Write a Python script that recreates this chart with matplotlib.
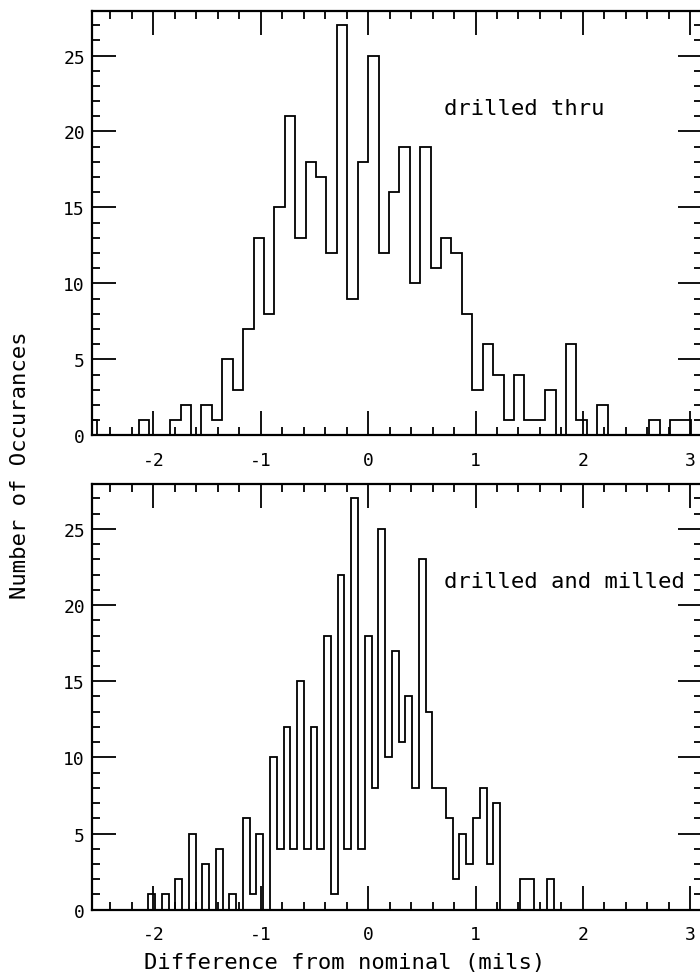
import matplotlib
matplotlib.use("Agg")
import matplotlib.pyplot as plt
import numpy as np
from matplotlib.ticker import MultipleLocator

# histogram counts
# top panel: bins of width 0.097, first bin starts at -27 * width
top_width = 0.097
top_first = -27
top_counts = [1, 0, 0, 0, 0, 1, 0, 0, 1, 2, 0, 2, 1, 5, 3, 7, 13, 8, 15, 21,
              13, 18, 17, 12, 27, 9, 18,
              25, 12, 16, 19, 10, 19, 11, 13, 12, 8, 3, 6, 4, 1, 4, 1, 1, 3,
              0, 6, 1, 0, 2, 0, 0, 0, 0, 1, 0, 1, 1, 0]

# bottom panel: bins of width 0.063 centred on k * width
bot_width = 0.063
bot_first = -32
bot_counts = [1, 0, 1, 0, 2, 0, 5, 0, 3, 0, 4, 0, 1, 0, 6, 1, 5, 0, 10, 4,
              12, 4, 15, 4, 12, 4, 18, 1, 22, 4, 27, 4,
              18, 8, 25, 10, 17, 11, 14, 8, 23, 13, 8, 8, 6, 2, 5, 3, 6, 8,
              3, 7, 0, 0, 0, 2, 2, 0, 0, 2]

panel_labels = ["drilled thru", "drilled and milled"]
xticks = [-2, -1, 0, 1, 2, 3]
yticks = [0, 5, 10, 15, 20, 25]

plt.rcParams['font.family'] = ['DejaVu Sans Mono', 'DejaVu Sans']
plt.rcParams['axes.unicode_minus'] = False

top_edges = top_width * (top_first + np.arange(len(top_counts) + 1))
bot_edges = bot_width * (bot_first - 0.5 + np.arange(len(bot_counts) + 1))

fig = plt.figure(figsize=(7, 9.78), dpi=100)
W, H = 700.0, 978.0
ax1 = fig.add_axes([92 / W, 1 - 436.3 / H, 610 / W, 424.6 / H])
ax2 = fig.add_axes([92 / W, 1 - 910.7 / H, 610 / W, 425.7 / H])

xmin = -2.571
xmax = xmin + 610 / 107.4

for ax, edges, counts, label in [(ax1, top_edges, top_counts, panel_labels[0]),
                                 (ax2, bot_edges, bot_counts, panel_labels[1])]:
    ax.stairs(counts, edges, color='k', linewidth=1.3, baseline=0)
    ax.set_xlim(xmin, xmax)
    ax.set_ylim(0, 27.95)
    ax.set_xticks(xticks)
    ax.set_yticks(yticks)
    ax.xaxis.set_minor_locator(MultipleLocator(0.2))
    ax.yaxis.set_minor_locator(MultipleLocator(1))
    ax.tick_params(which='both', direction='in', top=True, right=True,
                   width=1.3, labelsize=13, color='k')
    ax.tick_params(which='major', length=17)
    ax.tick_params(which='minor', length=6)
    ax.tick_params(axis='x', pad=11)
    ax.tick_params(axis='y', pad=5)
    for s in ax.spines.values():
        s.set_linewidth(1.6)
    ax.text(0.705, 21.55, label, fontsize=16, va='center', ha='left')

fig.text(20 / W, 1 - 465 / H, "Number of Occurances", rotation=90,
         fontsize=16, ha='center', va='center')
fig.text(345 / W, 1 - 963 / H, "Difference from nominal (mils)",
         fontsize=16, ha='center', va='center')

plt.savefig("out.png", dpi=100)
